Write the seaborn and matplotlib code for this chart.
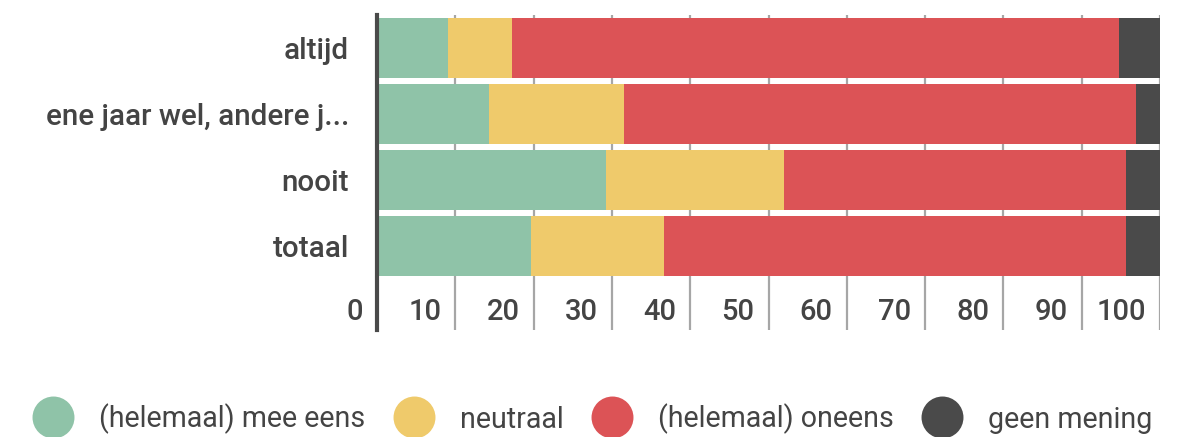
import pandas as pd
import seaborn as sns
import matplotlib.pyplot as plt
from matplotlib.lines import Line2D
from matplotlib.transforms import ScaledTranslation

categories = ["altijd", "ene jaar wel, andere j...", "nooit", "totaal"]
mee_eens = [9.1, 14.3, 29.3, 19.7]
neutraal = [8.2, 17.3, 22.7, 16.9]
oneens = [77.4, 65.3, 43.7, 59.1]
geen_mening = [5.3, 3.1, 4.3, 4.3]

series_names = ["(helemaal) mee eens", "neutraal", "(helemaal) oneens", "geen mening"]
series_colors = ["#8fc3a8", "#efca6b", "#dc5356", "#4a4a4a"]
x_ticks = [0, 10, 20, 30, 40, 50, 60, 70, 80, 90, 100]

df = pd.DataFrame({
    "categorie": categories,
    series_names[0]: mee_eens,
    series_names[1]: neutraal,
    series_names[2]: oneens,
    series_names[3]: geen_mening,
})
cum = df[series_names].cumsum(axis=1)
cum["categorie"] = df["categorie"]

sns.set_theme(style="white")
plt.rcParams["font.family"] = ["Roboto", "DejaVu Sans"]
text_col = "#444444"

fig = plt.figure(figsize=(11.78, 4.37), dpi=100)
ax = fig.add_axes([377 / 1178, 1 - 330 / 437, (1160 - 377) / 1178, (330 - 15) / 437])

# stacked bars: draw the longest (cumulative) layer first
for name, col in reversed(list(zip(series_names, series_colors))):
    sns.barplot(data=cum, x=name, y="categorie", orient="h", color=col,
                saturation=1, width=0.91, linewidth=0, ax=ax)

ax.set_xlim(0, 100)
ax.set_ylim(4.28, -0.5)
ax.set_xlabel("")
ax.set_ylabel("")

ax.set_axisbelow(True)
ax.set_xticks(x_ticks)
ax.set_xticklabels([str(t) for t in x_ticks])
ax.grid(axis="x", color="#a6a6a6", lw=1.6)
ax.grid(axis="y", visible=False)

for s in ["top", "right", "bottom"]:
    ax.spines[s].set_visible(False)
ax.spines["left"].set_color("#4a4a4a")
ax.spines["left"].set_linewidth(3)

ax.tick_params(axis="y", length=0, pad=20, labelsize=21.3, labelcolor=text_col)
ax.tick_params(axis="x", length=0, pad=0, labelsize=21, labelcolor=text_col)
for lbl in ax.get_yticklabels():
    lbl.set_fontweight(500)
for lbl in ax.get_xticklabels():
    lbl.set_fontweight(500)
    lbl.set_ha("right")
    lbl.set_va("center")
    lbl.set_transform(lbl.get_transform() +
                      ScaledTranslation(-14 / 100, 18 / 100, fig.dpi_scale_trans))

handles = [Line2D([], [], marker="o", ls="", markersize=30.2, color=c, markeredgewidth=0)
           for c in series_colors]
fig.legend(handles, series_names, loc="center left", ncol=4, frameon=False,
           bbox_to_anchor=(32 / 1178, 1 - 419 / 437), fontsize=20.6,
           labelcolor=text_col, borderpad=0, borderaxespad=0,
           handlelength=1.47, handletextpad=0.88, columnspacing=0.95)

fig.savefig("out.png", dpi=100)
